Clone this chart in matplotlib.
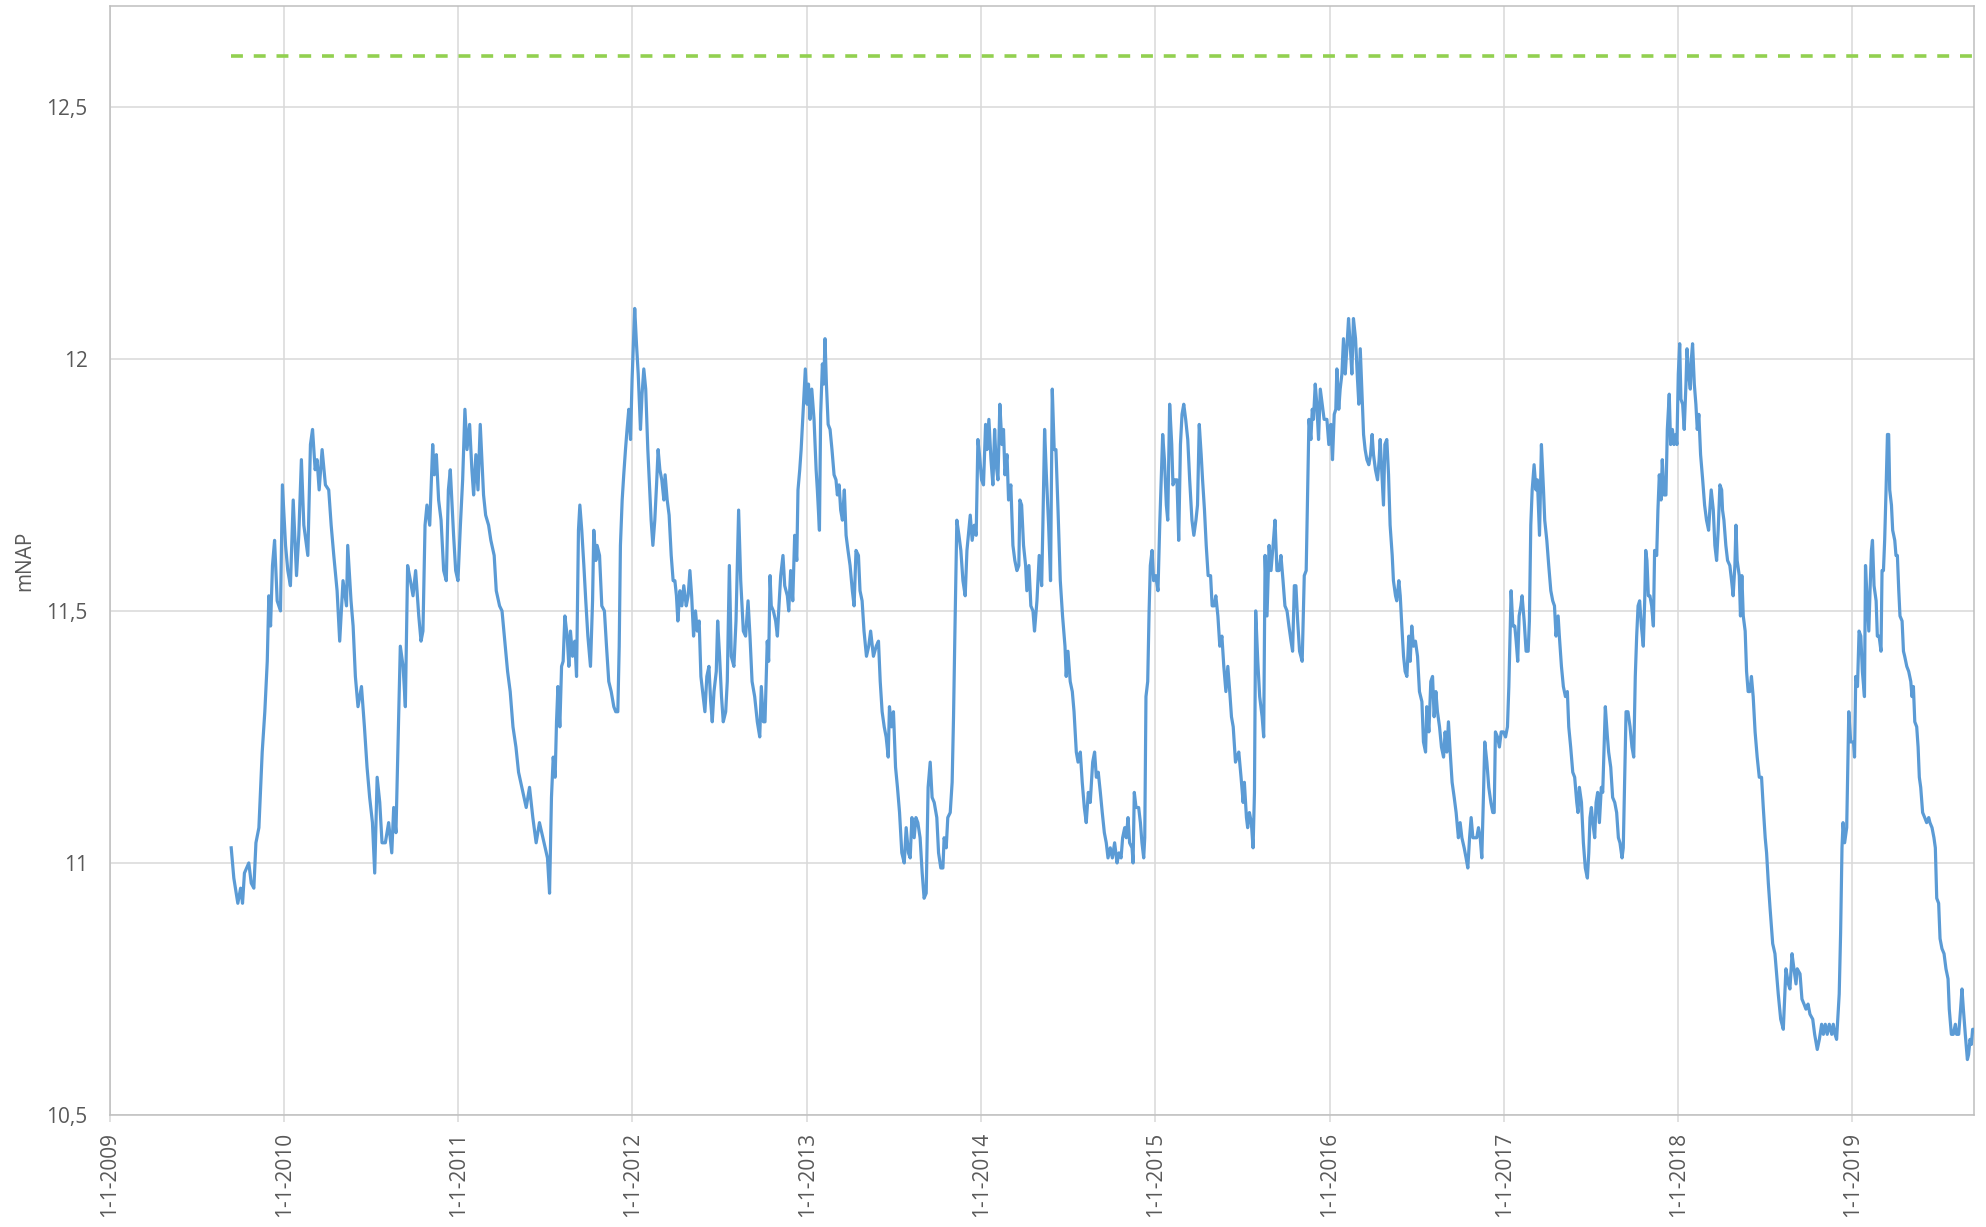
import matplotlib
matplotlib.use("Agg")
import matplotlib.pyplot as plt
from datetime import datetime, timedelta

# ---- data (decimal year, groundwater level in m NAP) ----
decimal_years = [
    2009.696, 2009.711, 2009.734, 2009.750, 2009.761, 2009.772, 2009.797, 2009.811, 2009.826, 2009.838,
    2009.855, 2009.874, 2009.889, 2009.903, 2009.912, 2009.922, 2009.933, 2009.945, 2009.960, 2009.979,
    2009.990, 2010.008, 2010.021, 2010.036, 2010.052, 2010.071, 2010.084, 2010.099, 2010.113, 2010.136,
    2010.151, 2010.163, 2010.178, 2010.189, 2010.201, 2010.218, 2010.237, 2010.256, 2010.270, 2010.285,
    2010.304, 2010.319, 2010.338, 2010.358, 2010.365, 2010.384, 2010.396, 2010.409, 2010.424, 2010.444,
    2010.461, 2010.476, 2010.491, 2010.507, 2010.520, 2010.534, 2010.549, 2010.562, 2010.581, 2010.600,
    2010.618, 2010.629, 2010.642, 2010.654, 2010.667, 2010.683, 2010.696, 2010.709, 2010.725, 2010.740,
    2010.755, 2010.773, 2010.786, 2010.797, 2010.809, 2010.820, 2010.836, 2010.853, 2010.862, 2010.874,
    2010.887, 2010.901, 2010.916, 2010.931, 2010.943, 2010.954, 2010.973, 2010.985, 2010.998, 2011.012,
    2011.025, 2011.038, 2011.050, 2011.065, 2011.078, 2011.088, 2011.101, 2011.113, 2011.126, 2011.145,
    2011.157, 2011.174, 2011.187, 2011.206, 2011.218, 2011.237, 2011.251, 2011.270, 2011.283, 2011.298,
    2011.314, 2011.331, 2011.346, 2011.365, 2011.390, 2011.409, 2011.428, 2011.447, 2011.466, 2011.486,
    2011.499, 2011.512, 2011.524,
    2011.535, 2011.545, 2011.556, 2011.564, 2011.572, 2011.583, 2011.593, 2011.602, 2011.612, 2011.625,
    2011.635, 2011.644, 2011.656, 2011.669, 2011.679, 2011.690, 2011.698, 2011.709, 2011.721, 2011.732,
    2011.744, 2011.759, 2011.771, 2011.778, 2011.790, 2011.797, 2011.811, 2011.824, 2011.839, 2011.851,
    2011.864, 2011.878, 2011.893, 2011.904, 2011.916, 2011.924, 2011.931, 2011.941, 2011.950, 2011.960,
    2011.969, 2011.979, 2011.989, 2011.998, 2012.013, 2012.023, 2012.033, 2012.046, 2012.055, 2012.065,
    2012.076, 2012.088, 2012.099, 2012.107, 2012.117, 2012.128, 2012.138, 2012.147, 2012.157, 2012.168,
    2012.180, 2012.187, 2012.199, 2012.210, 2012.222, 2012.233, 2012.243, 2012.252, 2012.260, 2012.272,
    2012.283, 2012.294, 2012.308, 2012.319, 2012.329, 2012.339, 2012.350, 2012.361, 2012.371, 2012.382,
    2012.392, 2012.405, 2012.415, 2012.426, 2012.438, 2012.448, 2012.457, 2012.467, 2012.480, 2012.488,
    2012.499, 2012.510, 2012.520, 2012.534, 2012.543, 2012.555, 2012.566, 2012.581, 2012.593, 2012.608,
    2012.620, 2012.635, 2012.648, 2012.662, 2012.673, 2012.685, 2012.700, 2012.715, 2012.729, 2012.738,
    2012.750, 2012.759, 2012.772, 2012.780, 2012.788, 2012.795, 2012.807, 2012.820, 2012.830, 2012.839,
    2012.849, 2012.862, 2012.872, 2012.887, 2012.895, 2012.906, 2012.918, 2012.929, 2012.941, 2012.948,
    2012.958, 2012.966, 2012.975, 2012.983, 2012.990, 2013.000, 2013.008, 2013.017, 2013.027, 2013.040,
    2013.052, 2013.059, 2013.071, 2013.078, 2013.088, 2013.096, 2013.103, 2013.111, 2013.121, 2013.132,
    2013.143, 2013.155, 2013.166, 2013.174, 2013.184, 2013.193, 2013.203, 2013.214, 2013.224, 2013.235,
    2013.247, 2013.260, 2013.270, 2013.281, 2013.295, 2013.304, 2013.316, 2013.327, 2013.341, 2013.354,
    2013.365,
    2013.381, 2013.397, 2013.410, 2013.420, 2013.431, 2013.443, 2013.454, 2013.466, 2013.473, 2013.485,
    2013.496, 2013.508, 2013.519, 2013.531, 2013.544, 2013.558, 2013.569, 2013.582, 2013.592, 2013.602,
    2013.615, 2013.625, 2013.636, 2013.649, 2013.661, 2013.672, 2013.684, 2013.695, 2013.707, 2013.718,
    2013.730, 2013.745, 2013.755, 2013.768, 2013.780, 2013.787, 2013.799, 2013.808, 2013.822, 2013.833,
    2013.841, 2013.849, 2013.860, 2013.872, 2013.883, 2013.895, 2013.908, 2013.918, 2013.929, 2013.937,
    2013.948, 2013.960, 2013.971, 2013.981, 2013.990, 2014.002, 2014.013, 2014.025, 2014.033, 2014.044,
    2014.056, 2014.067, 2014.077, 2014.086, 2014.096, 2014.107, 2014.119, 2014.128, 2014.136, 2014.148,
    2014.157, 2014.170, 2014.182, 2014.193, 2014.205, 2014.216, 2014.222, 2014.232, 2014.243, 2014.255,
    2014.262, 2014.274, 2014.285, 2014.297, 2014.306, 2014.320, 2014.333, 2014.347, 2014.354, 2014.364,
    2014.374, 2014.387, 2014.398, 2014.408, 2014.419, 2014.429, 2014.441, 2014.454, 2014.467, 2014.481,
    2014.488, 2014.498, 2014.511, 2014.523, 2014.533, 2014.546, 2014.556, 2014.569, 2014.580, 2014.592,
    2014.603, 2014.615, 2014.626, 2014.640, 2014.651, 2014.661, 2014.672, 2014.684, 2014.695, 2014.707,
    2014.718, 2014.728, 2014.741, 2014.753, 2014.766, 2014.780, 2014.791, 2014.803, 2014.812, 2014.824,
    2014.833, 2014.843, 2014.852, 2014.866, 2014.872, 2014.879, 2014.889, 2014.904, 2014.914, 2014.923,
    2014.933, 2014.939, 2014.946, 2014.956, 2014.964, 2014.971, 2014.981, 2014.990, 2015.002, 2015.015,
    2015.025, 2015.035, 2015.042, 2015.052, 2015.063, 2015.071, 2015.082, 2015.094, 2015.101, 2015.113,
    2015.124, 2015.134, 2015.144, 2015.153, 2015.163, 2015.174, 2015.186, 2015.197,
    2015.210, 2015.221, 2015.233, 2015.242, 2015.252, 2015.263, 2015.271, 2015.282, 2015.292, 2015.303,
    2015.317, 2015.326, 2015.338, 2015.347, 2015.359, 2015.370, 2015.382, 2015.393, 2015.405, 2015.416,
    2015.427, 2015.437, 2015.447, 2015.460, 2015.469, 2015.479, 2015.492, 2015.504, 2015.511, 2015.523,
    2015.530, 2015.540, 2015.551, 2015.561, 2015.569, 2015.576, 2015.588, 2015.599, 2015.613, 2015.622,
    2015.630, 2015.641, 2015.653, 2015.664, 2015.676, 2015.687, 2015.698, 2015.710, 2015.721, 2015.733,
    2015.744, 2015.756, 2015.767, 2015.779, 2015.788, 2015.798, 2015.807, 2015.817, 2015.828, 2015.843,
    2015.855, 2015.866, 2015.874, 2015.882, 2015.893, 2015.901, 2015.908, 2015.918, 2015.927, 2015.937,
    2015.947, 2015.958, 2015.969, 2015.985, 2015.996, 2016.008, 2016.017, 2016.027, 2016.036, 2016.042,
    2016.053, 2016.061, 2016.071, 2016.080, 2016.090, 2016.099, 2016.109, 2016.118, 2016.128, 2016.137,
    2016.149, 2016.160, 2016.168, 2016.176, 2016.187, 2016.195, 2016.204, 2016.214, 2016.225, 2016.235,
    2016.244, 2016.252, 2016.263, 2016.275, 2016.284, 2016.290, 2016.300, 2016.309, 2016.317, 2016.328,
    2016.338, 2016.347, 2016.359, 2016.366, 2016.378, 2016.385, 2016.397, 2016.405, 2016.414, 2016.424,
    2016.433, 2016.443, 2016.454, 2016.462, 2016.471, 2016.481, 2016.492, 2016.504, 2016.515, 2016.529,
    2016.538, 2016.550, 2016.557, 2016.569, 2016.580, 2016.590, 2016.599, 2016.609, 2016.618, 2016.630,
    2016.641, 2016.653, 2016.662, 2016.672, 2016.681, 2016.691, 2016.702, 2016.714, 2016.725, 2016.738,
    2016.748, 2016.758, 2016.771, 2016.782, 2016.792, 2016.802, 2016.811, 2016.821, 2016.832, 2016.843,
    2016.853, 2016.863, 2016.872, 2016.882, 2016.889, 2016.901, 2016.912, 2016.924, 2016.935, 2016.943,
    2016.950, 2016.962, 2016.973, 2016.983, 2016.996, 2017.008, 2017.019, 2017.027,
    2017.040, 2017.050, 2017.061, 2017.069, 2017.078, 2017.086, 2017.096, 2017.103, 2017.115, 2017.126,
    2017.138, 2017.145, 2017.153, 2017.161, 2017.172, 2017.183, 2017.191, 2017.203, 2017.214, 2017.226,
    2017.233, 2017.245, 2017.256, 2017.268, 2017.279, 2017.289, 2017.298, 2017.310, 2017.317, 2017.329,
    2017.340, 2017.352, 2017.363, 2017.371, 2017.382, 2017.394, 2017.405, 2017.417, 2017.424, 2017.432,
    2017.444, 2017.455, 2017.466, 2017.478, 2017.486, 2017.493, 2017.501, 2017.509, 2017.520, 2017.528,
    2017.537, 2017.547, 2017.558, 2017.566, 2017.575, 2017.581, 2017.593, 2017.600, 2017.612, 2017.623,
    2017.635, 2017.646, 2017.656, 2017.665, 2017.677, 2017.684, 2017.692, 2017.700, 2017.711, 2017.723,
    2017.734, 2017.744, 2017.753, 2017.761, 2017.769, 2017.778, 2017.788, 2017.799, 2017.807, 2017.813,
    2017.820, 2017.828, 2017.837, 2017.847, 2017.857, 2017.864, 2017.876, 2017.883, 2017.891, 2017.901,
    2017.908, 2017.918, 2017.929, 2017.937, 2017.948, 2017.956, 2017.966, 2017.975, 2017.985, 2017.992,
    2018.000, 2018.008, 2018.015, 2018.025, 2018.034, 2018.044, 2018.050, 2018.059, 2018.069, 2018.075,
    2018.082, 2018.092, 2018.101, 2018.109, 2018.118, 2018.128, 2018.140, 2018.151, 2018.162, 2018.174,
    2018.181, 2018.189, 2018.201, 2018.210, 2018.220, 2018.229, 2018.239, 2018.249, 2018.254, 2018.262,
    2018.273, 2018.283, 2018.296, 2018.306, 2018.315, 2018.325, 2018.331, 2018.338, 2018.350, 2018.357,
    2018.365, 2018.373, 2018.384, 2018.392, 2018.401, 2018.411, 2018.420, 2018.430, 2018.441, 2018.453,
    2018.465, 2018.478, 2018.488, 2018.499, 2018.507,
    2018.517, 2018.527, 2018.542, 2018.555, 2018.574, 2018.588, 2018.603, 2018.618, 2018.632, 2018.641,
    2018.653, 2018.664, 2018.676, 2018.683, 2018.699, 2018.710, 2018.722, 2018.733, 2018.745, 2018.756,
    2018.772, 2018.783, 2018.798, 2018.810, 2018.823, 2018.833, 2018.844, 2018.855, 2018.867, 2018.881,
    2018.890, 2018.900, 2018.909, 2018.917, 2018.924, 2018.932, 2018.940, 2018.946, 2018.955, 2018.967,
    2018.979, 2018.990, 2019.006, 2019.012, 2019.019, 2019.029, 2019.038, 2019.048, 2019.057, 2019.069,
    2019.075, 2019.082, 2019.094, 2019.101, 2019.109, 2019.115, 2019.124, 2019.136, 2019.143, 2019.153,
    2019.164, 2019.170, 2019.178, 2019.185, 2019.193, 2019.201, 2019.208, 2019.214, 2019.224, 2019.231,
    2019.243, 2019.250, 2019.258, 2019.266, 2019.273, 2019.285, 2019.293, 2019.300, 2019.312, 2019.323,
    2019.335, 2019.342, 2019.350, 2019.358, 2019.369, 2019.377, 2019.384, 2019.392, 2019.403, 2019.415,
    2019.426, 2019.438, 2019.445, 2019.457, 2019.468, 2019.476, 2019.484, 2019.495, 2019.503, 2019.514,
    2019.526, 2019.537, 2019.549, 2019.556, 2019.568, 2019.579, 2019.591, 2019.598, 2019.610, 2019.621,
    2019.629, 2019.637, 2019.648, 2019.660, 2019.667, 2019.675, 2019.683, 2019.690, 2019.698,
]

levels_mnap = [
    11.03, 10.97, 10.92, 10.95, 10.92, 10.98, 11.00, 10.96, 10.95, 11.04,
    11.07, 11.22, 11.30, 11.40, 11.53, 11.47, 11.59, 11.64, 11.52, 11.50,
    11.75, 11.63, 11.58, 11.55, 11.72, 11.57, 11.65, 11.80, 11.67, 11.61,
    11.83, 11.86, 11.78, 11.80, 11.74, 11.82, 11.75, 11.74, 11.67, 11.61,
    11.54, 11.44, 11.56, 11.51, 11.63, 11.52, 11.47, 11.37, 11.31, 11.35,
    11.27, 11.19, 11.13, 11.08, 10.98, 11.17, 11.12, 11.04, 11.04, 11.08,
    11.02, 11.11, 11.06, 11.24, 11.43, 11.39, 11.31, 11.59, 11.56, 11.53,
    11.58, 11.49, 11.44, 11.46, 11.67, 11.71, 11.67, 11.83, 11.77, 11.81,
    11.72, 11.68, 11.58, 11.56, 11.74, 11.78, 11.65, 11.58, 11.56, 11.67,
    11.76, 11.90, 11.82, 11.87, 11.78, 11.73, 11.81, 11.74, 11.87, 11.73,
    11.69, 11.67, 11.64, 11.61, 11.54, 11.51, 11.50, 11.43, 11.38, 11.34,
    11.27, 11.23, 11.18, 11.15, 11.11, 11.15, 11.09, 11.04, 11.08, 11.05,
    11.03, 11.01, 10.94,
    11.13, 11.21, 11.17, 11.28, 11.35, 11.27, 11.39, 11.40, 11.49, 11.45,
    11.39, 11.46, 11.41, 11.44, 11.37, 11.66, 11.71, 11.66, 11.59, 11.52,
    11.45, 11.39, 11.52, 11.66, 11.60, 11.63, 11.61, 11.51, 11.50, 11.43,
    11.36, 11.34, 11.31, 11.30, 11.30, 11.43, 11.63, 11.72, 11.77, 11.82,
    11.86, 11.90, 11.84, 11.96, 12.10, 12.03, 11.97, 11.86, 11.93, 11.98,
    11.94, 11.82, 11.74, 11.68, 11.63, 11.68, 11.75, 11.82, 11.78, 11.76,
    11.72, 11.77, 11.72, 11.69, 11.61, 11.56, 11.56, 11.53, 11.48, 11.54,
    11.51, 11.55, 11.51, 11.53, 11.58, 11.53, 11.45, 11.50, 11.46, 11.48,
    11.37, 11.33, 11.30, 11.37, 11.39, 11.32, 11.28, 11.34, 11.38, 11.48,
    11.41, 11.33, 11.28, 11.30, 11.36, 11.59, 11.41, 11.39, 11.48, 11.70,
    11.56, 11.46, 11.45, 11.52, 11.45, 11.36, 11.33, 11.28, 11.25, 11.35,
    11.28, 11.28, 11.44, 11.40, 11.57, 11.51, 11.50, 11.48, 11.45, 11.51,
    11.57, 11.61, 11.55, 11.53, 11.50, 11.58, 11.52, 11.65, 11.60, 11.74,
    11.78, 11.82, 11.88, 11.93, 11.98, 11.91, 11.95, 11.88, 11.94, 11.88,
    11.78, 11.74, 11.66, 11.89, 11.99, 11.95, 12.04, 11.95, 11.87, 11.86,
    11.82, 11.77, 11.76, 11.73, 11.75, 11.70, 11.68, 11.74, 11.65, 11.62,
    11.59, 11.54, 11.51, 11.62, 11.61, 11.54, 11.52, 11.46, 11.41, 11.43,
    11.46,
    11.41, 11.43, 11.44, 11.36, 11.30, 11.27, 11.25, 11.21, 11.31, 11.27,
    11.30, 11.19, 11.15, 11.10, 11.02, 11.00, 11.07, 11.02, 11.01, 11.09,
    11.05, 11.09, 11.08, 11.05, 10.98, 10.93, 10.94, 11.15, 11.20, 11.13,
    11.12, 11.09, 11.02, 10.99, 10.99, 11.05, 11.03, 11.09, 11.10, 11.16,
    11.29, 11.46, 11.68, 11.65, 11.62, 11.56, 11.53, 11.62, 11.66, 11.69,
    11.64, 11.67, 11.65, 11.84, 11.81, 11.76, 11.75, 11.87, 11.82, 11.88,
    11.80, 11.75, 11.86, 11.79, 11.76, 11.91, 11.83, 11.86, 11.77, 11.81,
    11.72, 11.75, 11.63, 11.60, 11.58, 11.59, 11.72, 11.71, 11.63, 11.59,
    11.54, 11.59, 11.51, 11.50, 11.46, 11.52, 11.61, 11.55, 11.67, 11.86,
    11.77, 11.67, 11.56, 11.94, 11.82, 11.82, 11.70, 11.56, 11.49, 11.43,
    11.37, 11.42, 11.36, 11.34, 11.30, 11.22, 11.20, 11.22, 11.16, 11.11,
    11.08, 11.14, 11.12, 11.20, 11.22, 11.17, 11.18, 11.14, 11.10, 11.06,
    11.04, 11.01, 11.03, 11.01, 11.04, 11.00, 11.02, 11.01, 11.05, 11.07,
    11.05, 11.09, 11.04, 11.03, 11.00, 11.14, 11.11, 11.11, 11.08, 11.04,
    11.01, 11.05, 11.33, 11.36, 11.50, 11.59, 11.62, 11.56, 11.57, 11.54,
    11.67, 11.78, 11.85, 11.80, 11.71, 11.68, 11.91, 11.83, 11.75, 11.76,
    11.76, 11.64, 11.83, 11.89, 11.91, 11.88, 11.84, 11.76,
    11.68, 11.65, 11.68, 11.71, 11.87, 11.81, 11.76, 11.70, 11.63, 11.57,
    11.57, 11.51, 11.51, 11.53, 11.49, 11.43, 11.45, 11.39, 11.34, 11.39,
    11.34, 11.29, 11.27, 11.20, 11.21, 11.22, 11.17, 11.12, 11.16, 11.09,
    11.07, 11.10, 11.08, 11.03, 11.14, 11.50, 11.40, 11.33, 11.29, 11.25,
    11.61, 11.49, 11.63, 11.58, 11.63, 11.68, 11.58, 11.58, 11.61, 11.56,
    11.51, 11.50, 11.47, 11.44, 11.42, 11.55, 11.55, 11.48, 11.42, 11.40,
    11.57, 11.58, 11.73, 11.88, 11.84, 11.90, 11.88, 11.95, 11.91, 11.84,
    11.94, 11.91, 11.88, 11.88, 11.83, 11.87, 11.80, 11.89, 11.90, 11.98,
    11.90, 11.94, 11.97, 12.04, 11.97, 12.02, 12.08, 12.03, 11.97, 12.08,
    12.04, 11.96, 11.91, 12.02, 11.92, 11.85, 11.82, 11.80, 11.79, 11.81,
    11.85, 11.81, 11.78, 11.76, 11.80, 11.84, 11.77, 11.71, 11.83, 11.84,
    11.77, 11.67, 11.61, 11.56, 11.53, 11.52, 11.56, 11.53, 11.47, 11.41,
    11.38, 11.37, 11.45, 11.40, 11.47, 11.43, 11.44, 11.41, 11.34, 11.32,
    11.24, 11.22, 11.31, 11.26, 11.36, 11.37, 11.29, 11.34, 11.30, 11.27,
    11.23, 11.21, 11.26, 11.22, 11.28, 11.22, 11.16, 11.13, 11.10, 11.05,
    11.08, 11.05, 11.03, 11.01, 10.99, 11.05, 11.09, 11.05, 11.05, 11.05,
    11.07, 11.05, 11.01, 11.14, 11.24, 11.20, 11.15, 11.12, 11.10, 11.10,
    11.26, 11.25, 11.23, 11.26, 11.26, 11.25, 11.27, 11.35,
    11.54, 11.47, 11.47, 11.44, 11.40, 11.49, 11.51, 11.53, 11.48, 11.42,
    11.42, 11.48, 11.67, 11.74, 11.79, 11.74, 11.76, 11.65, 11.83, 11.74,
    11.68, 11.64, 11.59, 11.54, 11.52, 11.51, 11.45, 11.49, 11.45, 11.39,
    11.35, 11.33, 11.34, 11.27, 11.23, 11.18, 11.17, 11.12, 11.10, 11.15,
    11.12, 11.04, 10.99, 10.97, 11.02, 11.09, 11.11, 11.08, 11.05, 11.12,
    11.14, 11.08, 11.15, 11.14, 11.24, 11.31, 11.25, 11.22, 11.19, 11.13,
    11.12, 11.10, 11.05, 11.04, 11.01, 11.03, 11.17, 11.30, 11.30, 11.27,
    11.23, 11.21, 11.37, 11.45, 11.51, 11.52, 11.47, 11.43, 11.52, 11.62,
    11.60, 11.53, 11.53, 11.51, 11.47, 11.62, 11.61, 11.70, 11.77, 11.72,
    11.80, 11.73, 11.73, 11.86, 11.93, 11.83, 11.86, 11.83, 11.85, 11.83,
    11.97, 12.03, 11.92, 11.91, 11.86, 11.95, 12.02, 11.97, 11.94, 12.00,
    12.03, 11.95, 11.91, 11.86, 11.89, 11.81, 11.76, 11.71, 11.68, 11.66,
    11.70, 11.74, 11.70, 11.63, 11.60, 11.66, 11.75, 11.74, 11.70, 11.68,
    11.63, 11.60, 11.59, 11.56, 11.53, 11.59, 11.67, 11.60, 11.57, 11.49,
    11.57, 11.49, 11.46, 11.38, 11.34, 11.34, 11.37, 11.33, 11.26, 11.21,
    11.17, 11.17, 11.11, 11.05, 11.02,
    10.96, 10.91, 10.84, 10.82, 10.74, 10.69, 10.67, 10.79, 10.76, 10.75,
    10.82, 10.79, 10.76, 10.79, 10.78, 10.73, 10.72, 10.71, 10.72, 10.70,
    10.69, 10.66, 10.63, 10.65, 10.68, 10.66, 10.68, 10.66, 10.68, 10.66,
    10.68, 10.66, 10.65, 10.70, 10.74, 10.86, 11.03, 11.08, 11.04, 11.07,
    11.30, 11.24, 11.24, 11.21, 11.37, 11.35, 11.46, 11.45, 11.38, 11.33,
    11.59, 11.54, 11.46, 11.54, 11.62, 11.64, 11.55, 11.52, 11.45, 11.45,
    11.42, 11.58, 11.58, 11.64, 11.74, 11.85, 11.85, 11.74, 11.71, 11.66,
    11.64, 11.61, 11.61, 11.54, 11.49, 11.48, 11.42, 11.41, 11.39, 11.38,
    11.36, 11.33, 11.35, 11.28, 11.27, 11.23, 11.17, 11.15, 11.10, 11.09,
    11.08, 11.09, 11.08, 11.07, 11.05, 11.03, 10.93, 10.92, 10.85, 10.83,
    10.82, 10.79, 10.77, 10.71, 10.66, 10.66, 10.68, 10.66, 10.66, 10.71,
    10.75, 10.71, 10.66, 10.61, 10.62, 10.65, 10.64, 10.67, 10.67,
]

threshold_mnap = 12.6
x_tick_years = list(range(2009, 2020))
y_ticks = [10.5, 11.0, 11.5, 12.0, 12.5]
y_tick_labels = ["10,5", "11", "11,5", "12", "12,5"]
y_axis_title = "mNAP"


def to_date(y):
    yr = int(y)
    start = datetime(yr, 1, 1)
    length = (datetime(yr + 1, 1, 1) - start).days
    return start + timedelta(days=(y - yr) * length)


dates = [to_date(y) for y in decimal_years]

plt.rcParams["font.family"] = ["Open Sans", "DejaVu Sans"]

W, H = 1986, 1227
fig = plt.figure(figsize=(W / 100, H / 100), dpi=100)
left, right, top, bottom = 110, 1974, 6, 1115
ax = fig.add_axes([left / W, 1 - bottom / H, (right - left) / W, (bottom - top) / H])

ax.plot(dates, levels_mnap, color="#5B9BD5", lw=2.3, solid_joinstyle="round", zorder=3)
ax.plot([dates[0], dates[-1]], [threshold_mnap, threshold_mnap], color="#92D050",
        lw=2.6, linestyle=(0, (3.3, 3.0)), zorder=3)

ax.set_xlim(datetime(2009, 1, 1), dates[-1])
ax.set_ylim(10.5, 12.7)

ax.set_yticks(y_ticks)
ax.set_yticklabels(y_tick_labels)
ax.set_xticks([datetime(y, 1, 1) for y in x_tick_years])
ax.set_xticklabels([f"1-1-{y}" for y in x_tick_years], rotation=90)

ax.grid(True, color="#D9D9D9", lw=1.1)
ax.set_axisbelow(True)
for s in ax.spines.values():
    s.set_color("#BFBFBF")
    s.set_linewidth(1.1)

ax.tick_params(axis="y", length=0, pad=16, labelsize=15, labelcolor="#595959")
ax.tick_params(axis="x", length=5, width=1.1, color="#D9D9D9", pad=7,
               labelsize=15, labelcolor="#595959")

ax.set_ylabel(y_axis_title, fontsize=15, color="#595959", labelpad=8)

fig.savefig("out.png", dpi=100)
